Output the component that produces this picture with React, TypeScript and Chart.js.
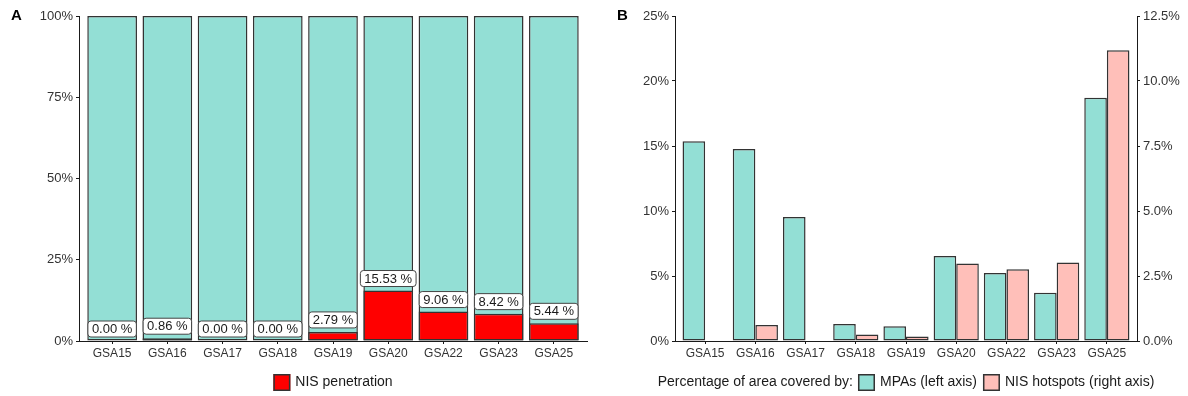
import React, { useEffect, useRef } from "react";
import { Chart, registerables } from "chart.js";

Chart.register(...registerables);

// ---- data ----
const regions = ["GSA15", "GSA16", "GSA17", "GSA18", "GSA19", "GSA20", "GSA22", "GSA23", "GSA25"];
// Panel A: share of each GSA area penetrated by NIS (%), drawn over the whole area (100%)
const nisPenetration = [0.0, 0.86, 0.0, 0.0, 2.79, 15.53, 9.06, 8.42, 5.44];
const wholeArea = [100, 100, 100, 100, 100, 100, 100, 100, 100];
// Panel B: percentage of area covered by MPAs (left axis) and NIS hotspots (right axis)
const mpaCoverage = [15.36, 14.77, 9.54, 1.31, 1.13, 6.54, 5.23, 3.72, 18.72];
const nisHotspots = [0.0, 0.62, 0.0, 0.25, 0.17, 2.98, 2.76, 3.02, 11.18];

const penetrationTicks = [0, 25, 50, 75, 100];
const mpaTicks = [0, 5, 10, 15, 20, 25];
const hotspotTicks = [0, 2.5, 5, 7.5, 10, 12.5];

// ---- styling ----
const FONT = "'Liberation Sans', Arial, Helvetica, sans-serif";
const TEAL = "#93dfd5";
const PINK = "#ffbfb9";
const RED = "#ff0000";
const EDGE = "#333333";
const TEXT = "#333333";
const AXIS = "#1a1a1a";
const W = 594;
const H = 396;

// discrete axis with 0.6 category units of room on each side
const discreteExpand = (scale: any) => {
  const n = scale.getLabels().length;
  scale._startValue = -0.6;
  scale._valueRange = n - 1 + 1.2;
};

const panelTag = {
  id: "panelTag",
  afterDraw(chart: any, _a: any, opts: any) {
    const { ctx } = chart;
    ctx.save();
    ctx.font = `bold 15px ${FONT}`;
    ctx.fillStyle = "#000";
    ctx.textAlign = "left";
    ctx.textBaseline = "alphabetic";
    ctx.fillText(opts.text, opts.x, opts.y);
    ctx.restore();
  },
};

const keyLegend = {
  id: "keyLegend",
  afterDraw(chart: any, _a: any, opts: any) {
    const { ctx, chartArea } = chart;
    const box = 17;
    const gap = 5;
    const sep = 6;
    ctx.save();
    ctx.font = `${opts.size}px ${FONT}`;
    const keys = opts.datasets.map((i: number) => chart.data.datasets[i]);
    let total = 0;
    const titleW = opts.title ? ctx.measureText(opts.title).width : 0;
    if (opts.title) total += titleW + gap;
    const widths = keys.map((ds: any) => ctx.measureText(ds.label).width);
    widths.forEach((w: number, k: number) => {
      total += box + gap + w + (k < widths.length - 1 ? sep : 0);
    });
    let x = (chartArea.left + chartArea.right) / 2 - total / 2;
    const cy = chartArea.bottom + opts.offset;
    ctx.textBaseline = "middle";
    ctx.textAlign = "left";
    ctx.fillStyle = "#1a1a1a";
    if (opts.title) {
      ctx.fillText(opts.title, x, cy);
      x += titleW + gap;
    }
    keys.forEach((ds: any, k: number) => {
      ctx.fillStyle = ds.backgroundColor;
      ctx.fillRect(x, cy - box / 2, box, box);
      ctx.strokeStyle = EDGE;
      ctx.lineWidth = 1.5;
      ctx.strokeRect(x + 0.75, cy - box / 2 + 0.75, box - 1.5, box - 1.5);
      x += box + gap;
      ctx.fillStyle = "#1a1a1a";
      ctx.fillText(ds.label, x, cy);
      x += widths[k] + sep;
    });
    ctx.restore();
  },
};

// boxed value labels sitting just above each NIS penetration bar
const valueTags = {
  id: "valueTags",
  afterDatasetsDraw(chart: any, _a: any, opts: any) {
    const { ctx } = chart;
    const meta = chart.getDatasetMeta(opts.dataset);
    const values = chart.data.datasets[opts.dataset].data as number[];
    ctx.save();
    ctx.font = `13px ${FONT}`;
    ctx.textAlign = "center";
    ctx.textBaseline = "middle";
    meta.data.forEach((bar: any, i: number) => {
      const text = `${values[i].toFixed(2)} %`;
      const tw = ctx.measureText(text).width;
      const bw = tw + 8;
      const bh = 16;
      const bottom = bar.y - 4;
      const left = bar.x - bw / 2;
      ctx.beginPath();
      ctx.roundRect(left, bottom - bh, bw, bh, 3);
      ctx.fillStyle = "#ffffff";
      ctx.fill();
      ctx.strokeStyle = "#444444";
      ctx.lineWidth = 1;
      ctx.stroke();
      ctx.fillStyle = "#1a1a1a";
      ctx.fillText(text, bar.x, bottom - bh / 2 + 0.5);
    });
    ctx.restore();
  },
};

const axisX = (heightPx: number) => ({
  offset: false,
  afterBuildTicks: discreteExpand,
  afterFit: (s: any) => {
    s.height = heightPx;
    s.paddingLeft = 0;
    s.paddingRight = 0;
  },
  grid: {
    display: true,
    offset: false,
    drawOnChartArea: false,
    drawTicks: true,
    tickLength: 3,
    tickColor: AXIS,
    tickWidth: 1,
  },
  border: { display: true, color: AXIS, width: 1 },
  ticks: { color: TEXT, font: { family: FONT, size: 12 }, padding: 2, maxRotation: 0, autoSkip: false },
});

const axisY = (
  position: string,
  widthPx: number,
  tickValues: number[],
  fmt: (v: number) => string
) => ({
  position,
  min: tickValues[0],
  max: tickValues[tickValues.length - 1],
  afterFit: (s: any) => {
    s.width = widthPx;
    s.paddingTop = 0;
    s.paddingBottom = 0;
  },
  afterBuildTicks: (s: any) => {
    s.ticks = tickValues.map((value) => ({ value }));
  },
  grid: {
    display: true,
    drawOnChartArea: false,
    drawTicks: true,
    tickLength: 3,
    tickColor: AXIS,
    tickWidth: 1,
  },
  border: { display: true, color: AXIS, width: 1 },
  ticks: {
    color: TEXT,
    font: { family: FONT, size: 13 },
    padding: 3,
    callback: (v: any) => fmt(Number(v)),
  },
});

export default function App() {
  const refA = useRef<HTMLCanvasElement | null>(null);
  const refB = useRef<HTMLCanvasElement | null>(null);

  useEffect(() => {
    const barStyle = {
      borderColor: EDGE,
      borderWidth: 1.5,
      borderSkipped: false as const,
      categoryPercentage: 0.9,
      barPercentage: 1,
    };

    const chartA = new Chart(refA.current as HTMLCanvasElement, {
      type: "bar",
      data: {
        labels: regions,
        datasets: [
          { label: "NIS penetration", data: nisPenetration, backgroundColor: RED, grouped: false, ...barStyle },
          { label: "Total area", data: wholeArea, backgroundColor: TEAL, grouped: false, ...barStyle },
        ],
      },
      options: {
        animation: false,
        responsive: false,
        devicePixelRatio: 1,
        layout: { padding: { top: 16, left: 0, right: 7, bottom: 35 } },
        plugins: {
          legend: { display: false },
          tooltip: { enabled: false },
          panelTag: { text: "A", x: 11, y: 20 },
          keyLegend: { datasets: [0], size: 14, offset: 41.5 },
          valueTags: { dataset: 0 },
        } as any,
        scales: {
          x: axisX(20) as any,
          y: axisY("left", 79, penetrationTicks, (v) => `${v}%`) as any,
        },
      },
      plugins: [panelTag, keyLegend, valueTags],
    });

    const chartB = new Chart(refB.current as HTMLCanvasElement, {
      type: "bar",
      data: {
        labels: regions,
        datasets: [
          { label: "MPAs (left axis)", data: mpaCoverage, backgroundColor: TEAL, yAxisID: "y", ...barStyle },
          { label: "NIS hotspots (right axis)", data: nisHotspots, backgroundColor: PINK, yAxisID: "y1", ...barStyle },
        ],
      },
      options: {
        animation: false,
        responsive: false,
        devicePixelRatio: 1,
        layout: { padding: { top: 16, left: 0, right: 0, bottom: 35 } },
        plugins: {
          legend: { display: false },
          tooltip: { enabled: false },
          panelTag: { text: "B", x: 23, y: 20 },
          keyLegend: { datasets: [0, 1], size: 14, offset: 41.5, title: "Percentage of area covered by:" },
        } as any,
        scales: {
          x: axisX(20) as any,
          y: axisY("left", 81, mpaTicks, (v) => `${v}%`) as any,
          y1: axisY("right", 51, hotspotTicks, (v) => `${v.toFixed(1)}%`) as any,
        },
      },
      plugins: [panelTag, keyLegend],
    });

    return () => {
      chartA.destroy();
      chartB.destroy();
    };
  }, []);

  return (
    <div style={{ position: "fixed", left: 0, top: 0, width: W * 2, height: H, background: "#fff" }}>
      <canvas ref={refA} width={W} height={H} style={{ position: "absolute", left: 0, top: 0, width: W, height: H }} />
      <canvas ref={refB} width={W} height={H} style={{ position: "absolute", left: W, top: 0, width: W, height: H }} />
    </div>
  );
}
